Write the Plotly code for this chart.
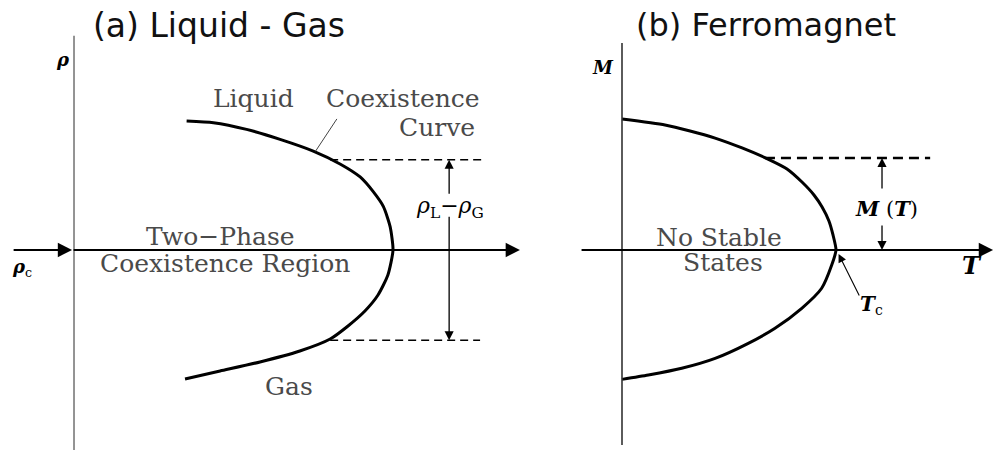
import plotly.graph_objects as go

# (a) Liquid-gas coexistence curve, reduced units: T/Tc and (rho - rho_c)
T_liquid = [0.353, 0.437, 0.541, 0.646, 0.750, 0.834, 0.897, 0.938, 0.970, 0.991, 1.0]
rho_liquid = [1.0, 0.987, 0.935, 0.858, 0.767, 0.667, 0.566, 0.452, 0.336, 0.181, 0.0]
T_gas = [0.984, 0.953, 0.912, 0.859, 0.803, 0.708, 0.583, 0.458, 0.348]
rho_gas = [-0.194, -0.349, -0.473, -0.589, -0.690, -0.783, -0.868, -0.938, -1.0]

# (b) Ferromagnet spontaneous magnetization, reduced units: T/Tc and M/M0
T_mag_up = [0.0, 0.201, 0.318, 0.435, 0.561, 0.682, 0.771, 0.841, 0.897, 0.935, 0.967, 0.986, 1.0]
M_up = [0.992, 0.947, 0.902, 0.848, 0.773, 0.689, 0.614, 0.515, 0.417, 0.326, 0.220, 0.114, 0.0]
T_mag_dn = [0.980, 0.933, 0.840, 0.715, 0.590, 0.435, 0.279, 0.123, 0.0]
M_dn = [-0.114, -0.290, -0.442, -0.593, -0.707, -0.821, -0.896, -0.947, -0.980]

# order-parameter gaps marked on each panel
T_mark_a = 0.803
rho_jump = 0.70          # rho_L - rho_c = rho_c - rho_G at T_mark_a
T_mark_b = 0.668
M_jump = 0.697           # M(T) at T_mark_b

titles = ["(a) Liquid - Gas", "(b) Ferromagnet"]

SERIF = "DejaVu Serif"
SANS = "DejaVu Sans"
INK = "#000000"
TXT = "#4a4a4a"

fig = go.Figure()

# coexistence curve: liquid branch down through the critical point to the gas branch
fig.add_trace(go.Scatter(
    x=T_liquid + T_gas, y=rho_liquid + rho_gas,
    mode="lines", line=dict(color=INK, width=3, shape="spline", smoothing=0.6),
    xaxis="x", yaxis="y", hoverinfo="skip", showlegend=False))

# magnetization curve: +M branch, critical point, -M branch
fig.add_trace(go.Scatter(
    x=T_mag_up + T_mag_dn, y=M_up + M_dn,
    mode="lines", line=dict(color=INK, width=3, shape="spline", smoothing=0.6),
    xaxis="x2", yaxis="y2", hoverinfo="skip", showlegend=False))

# dashed levels of rho_L and rho_G
fig.add_trace(go.Scatter(
    x=[T_mark_a, 1.288], y=[rho_jump, rho_jump], mode="lines",
    line=dict(color=INK, width=1.6, dash="8px,5px"),
    xaxis="x", yaxis="y", hoverinfo="skip", showlegend=False))
fig.add_trace(go.Scatter(
    x=[T_mark_a, 1.273], y=[-rho_jump, -rho_jump], mode="lines",
    line=dict(color=INK, width=1.6, dash="8px,5px"),
    xaxis="x", yaxis="y", hoverinfo="skip", showlegend=False))

# dashed level of M(T)
fig.add_trace(go.Scatter(
    x=[T_mark_b, 1.44], y=[M_jump, M_jump], mode="lines",
    line=dict(color=INK, width=2.6, dash="10px,6px"),
    xaxis="x2", yaxis="y2", hoverinfo="skip", showlegend=False))

shapes = [
    # vertical axes
    dict(type="line", xref="x", yref="y", x0=0, x1=0, y0=1.66, y1=-1.55,
         line=dict(color="#7a7a7a", width=1.6)),
    dict(type="line", xref="x2", yref="y2", x0=0, x1=0, y0=1.568, y1=-1.477,
         line=dict(color="#333333", width=1.6)),
    # leader from "Coexistence Curve" to the curve
    dict(type="line", xref="x", yref="y", x0=0.824, x1=0.757, y0=1.016, y1=0.765,
         line=dict(color="#444444", width=1)),
]


def arrow(x, y, ax, ay, xr, yr, width=2, size=1.2, head=2):
    return dict(x=x, y=y, ax=ax, ay=ay, xref=xr, yref=yr, axref=xr, ayref=yr,
                text="", showarrow=True, arrowhead=head, arrowsize=size,
                arrowwidth=width, arrowcolor=INK, standoff=0, startstandoff=0)


annotations = [
    # T axes
    arrow(1.398, 0, -0.006, 0, "x", "y", width=2.2, size=1.3),
    arrow(-0.006, 0, -0.194, 0, "x", "y", width=2.2, size=1.3),
    arrow(1.734, 0, -0.196, 0, "x2", "y2", width=2.2, size=1.3),
    # rho_L - rho_G double arrow
    arrow(1.176, rho_jump, 1.176, 0.425, "x", "y", width=1.3, size=1.4),
    arrow(1.176, -rho_jump, 1.176, 0.27, "x", "y", width=1.3, size=1.4),
    # M(T) double arrow
    arrow(1.215, M_jump, 1.215, 0.455, "x2", "y2", width=1.3, size=1.4),
    arrow(1.215, 0, 1.215, 0.197, "x2", "y2", width=1.3, size=1.4),
    # Tc pointer
    arrow(1.012, -0.03, 1.112, -0.356, "x2", "y2", width=1.1, size=1.5),
]


def label(text, x, y, xr, yr, size=25, family=SERIF, color=TXT):
    return dict(text=text, x=x, y=y, xref=xr, yref=yr, showarrow=False,
                xanchor="center", yanchor="middle",
                font=dict(family=family, size=size, color=color))


annotations += [
    dict(text=titles[0], x=219 / 995, y=1 - 25 / 452, xref="paper", yref="paper",
         showarrow=False, xanchor="center", yanchor="middle",
         font=dict(family=SANS, size=33, color="#111111")),
    dict(text=titles[1], x=766 / 995, y=1 - 25 / 452, xref="paper", yref="paper",
         showarrow=False, xanchor="center", yanchor="middle",
         font=dict(family=SANS, size=32, color="#111111")),
    # panel (a)
    label("Liquid", 0.564, 1.178, "x", "y"),
    label("Coexistence", 1.031, 1.178, "x", "y"),
    label("Curve", 1.138, 0.946, "x", "y"),
    label("Two−Phase", 0.458, 0.101, "x", "y"),
    label("Coexistence Region", 0.473, -0.101, "x", "y"),
    label("Gas", 0.674, -1.062, "x", "y"),
    label("<b><i>T</i></b>", 1.339, -0.140, "x", "y", size=24, color=INK),
    label("<b><i>ρ</i></b>", -0.034, 1.473, "x", "y", size=18, color=INK),
    label("<b><i>ρ</i></b><sub>c</sub>", -0.163, -0.140, "x", "y", size=18, color=INK),
    label("<i>ρ</i><sub>L</sub>−<i>ρ</i><sub>G</sub>", 1.179, 0.333, "x", "y",
          size=22, color=INK),
    # panel (b)
    label("No Stable", 0.453, 0.098, "x2", "y2"),
    label("States", 0.472, -0.098, "x2", "y2"),
    label("<b><i>M</i></b>", -0.089, 1.379, "x2", "y2", size=18, color=INK),
    label("<b><i>M</i></b> (<b><i>T</i></b>)", 1.238, 0.318, "x2", "y2", size=21, color=INK),
    label("<b><i>T</i></b>", 1.636, -0.121, "x2", "y2", size=24, color=INK),
    label("<b><i>T</i></b><sub>c</sub>", 1.168, -0.417, "x2", "y2", size=20, color=INK),
]

hidden = dict(visible=False, showgrid=False, zeroline=False, fixedrange=True)

fig.update_layout(
    width=995, height=452,
    margin=dict(l=0, r=0, t=0, b=0),
    paper_bgcolor="white", plot_bgcolor="white",
    xaxis=dict(domain=[0, 0.5], range=[-0.2320, 1.3276], **hidden),
    yaxis=dict(domain=[0, 1], range=[-1.566, 1.938], anchor="x", **hidden),
    xaxis2=dict(domain=[0.5, 1], range=[-0.5818, 1.7430], anchor="y2", **hidden),
    yaxis2=dict(domain=[0, 1], range=[-1.5303, 1.8939], anchor="x2", **hidden),
    shapes=shapes,
    annotations=annotations,
    showlegend=False,
)

fig.write_html("out.html")
